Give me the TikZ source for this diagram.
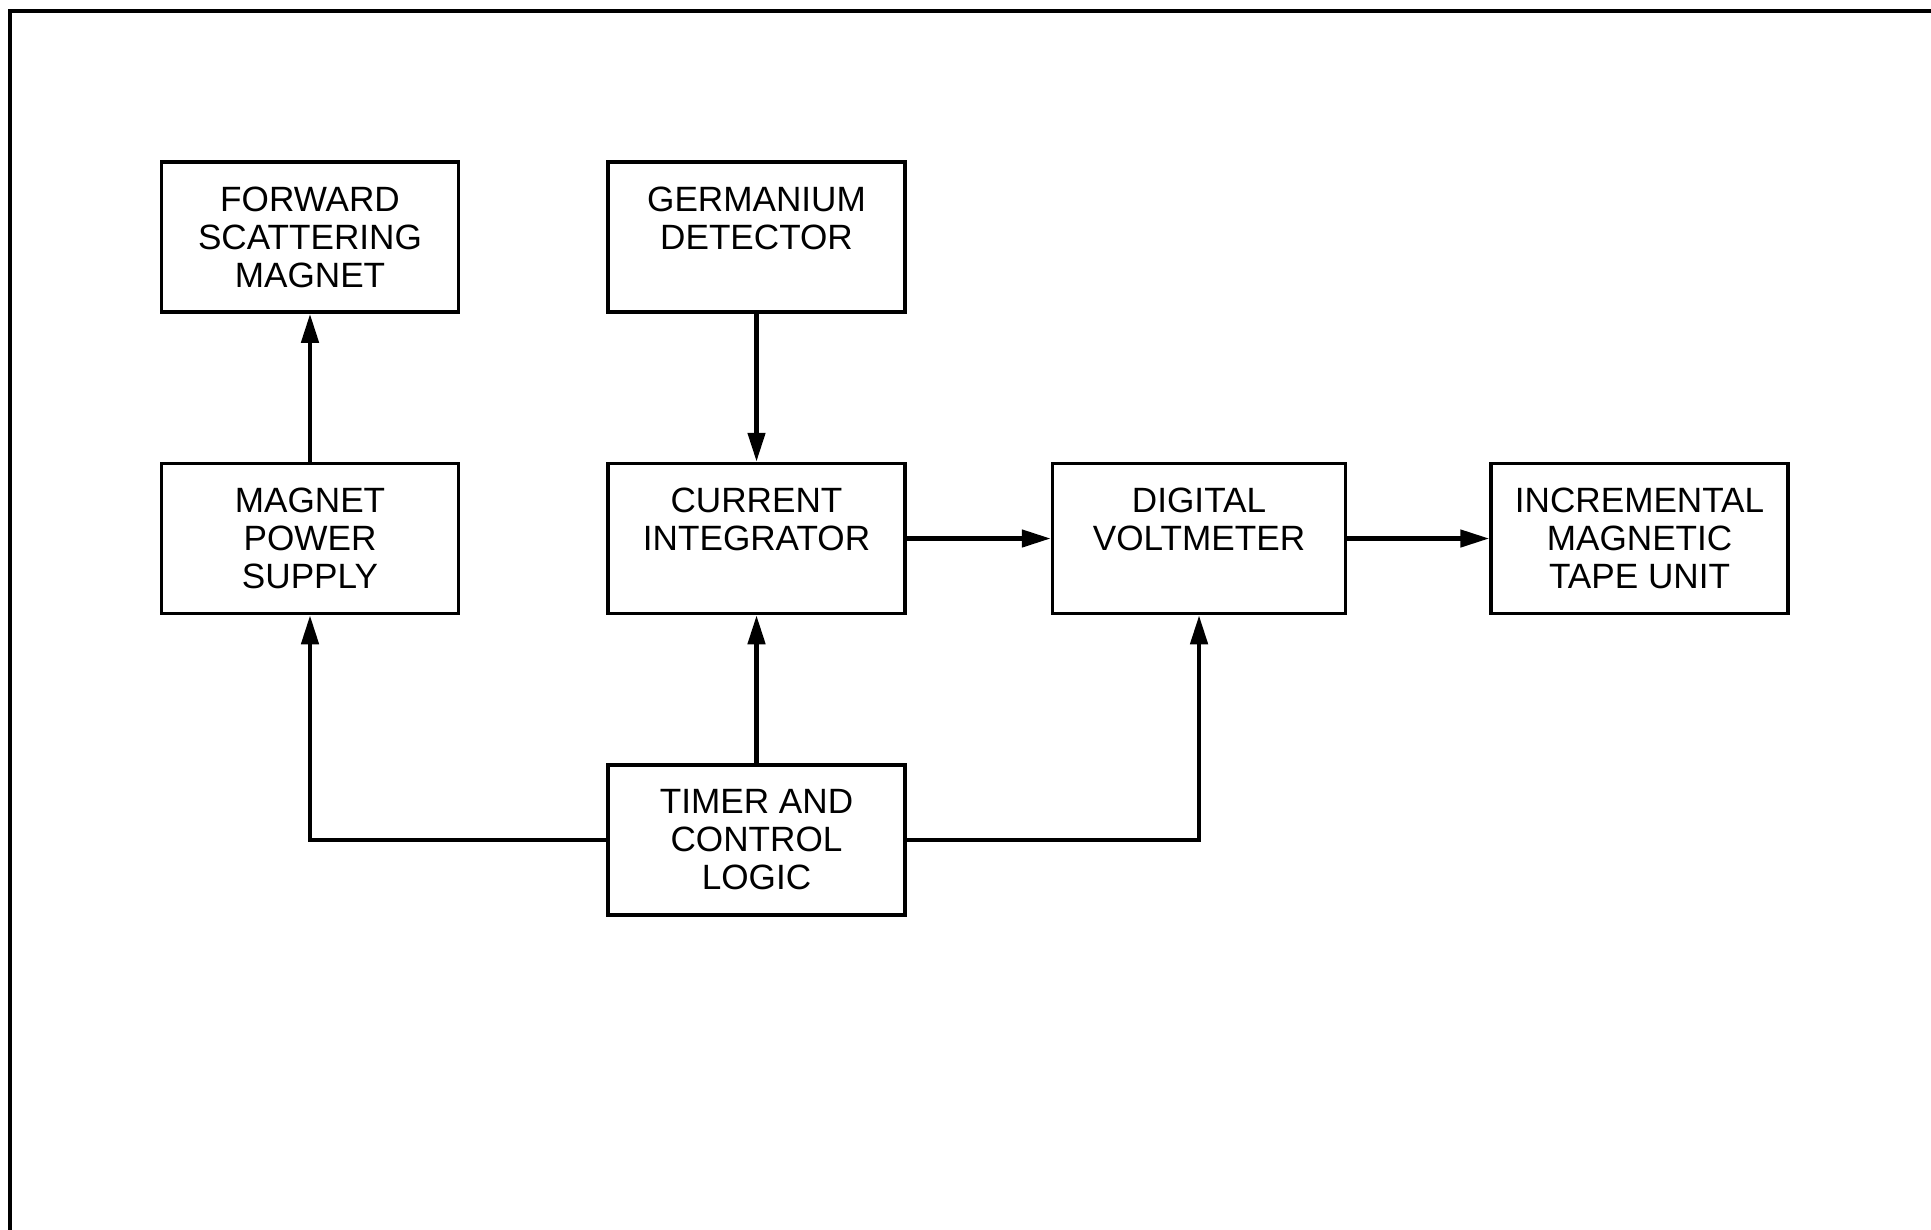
\documentclass[tikz,border=0pt]{standalone}
\usepackage{fontspec}
\setmainfont{Liberation Sans}
\usepackage{tikz}
\usetikzlibrary{arrows.meta,positioning}

\begin{document}
\begin{tikzpicture}[
      node distance=1.48cm and 1.46cm,
      every node/.style={font=\fontsize{10}{10.8}\selectfont},
      box/.style={draw, line width=1pt, minimum height=1.50cm,
                  minimum width=2.97cm, align=center, inner sep=2pt},
      tworow/.style={box, text depth=10.8pt},
      arr/.style={-{Triangle[length=2.9mm, width=1.7mm]}, line width=1.3pt},
      frame/.style={line width=1.2pt},
    ]
    \useasboundingbox (0,0) rectangle (19.31,-12.30);

    % ── Sheet frame ─────────────────────────────────────────
    \draw[frame] (0.10,-12.30) |- (19.31,-0.11);

    % ── Row 1: Magnet and detector ──────────────────────────
    \node[box] (fsm) at (3.10,-2.37)
      {FORWARD\\SCATTERING\\MAGNET};
    \node[tworow, right=of fsm] (gd)
      {GERMANIUM\\DETECTOR};

    % ── Row 2: Supply, integrator, voltmeter, tape ──────────
    \node[box, below=of fsm] (mps)
      {MAGNET\\POWER\\SUPPLY};
    \node[tworow, below=of gd] (ci)
      {CURRENT\\INTEGRATOR};
    \node[tworow, right=1.44cm of ci, minimum width=2.93cm] (dv)
      {DIGITAL\\VOLTMETER};
    \node[box, right=1.42cm of dv] (imt)
      {INCREMENTAL\\MAGNETIC\\TAPE UNIT};

    % ── Row 3: Timer ────────────────────────────────────────
    \node[box, below=of ci] (tcl)
      {TIMER AND\\CONTROL\\LOGIC};

    % ── Arrows ──────────────────────────────────────────────
    \draw[arr] (mps.north) -- (fsm.south);
    \draw[arr] (gd.south) -- (ci.north);
    \draw[arr] (ci.east) -- (dv.west);
    \draw[arr] (dv.east) -- (imt.west);
    \draw[arr] (tcl.north) -- (ci.south);
    \draw[arr] (tcl.west) -| (mps.south);
    \draw[arr] (tcl.east) -| (dv.south);
  \end{tikzpicture}
\end{document}
